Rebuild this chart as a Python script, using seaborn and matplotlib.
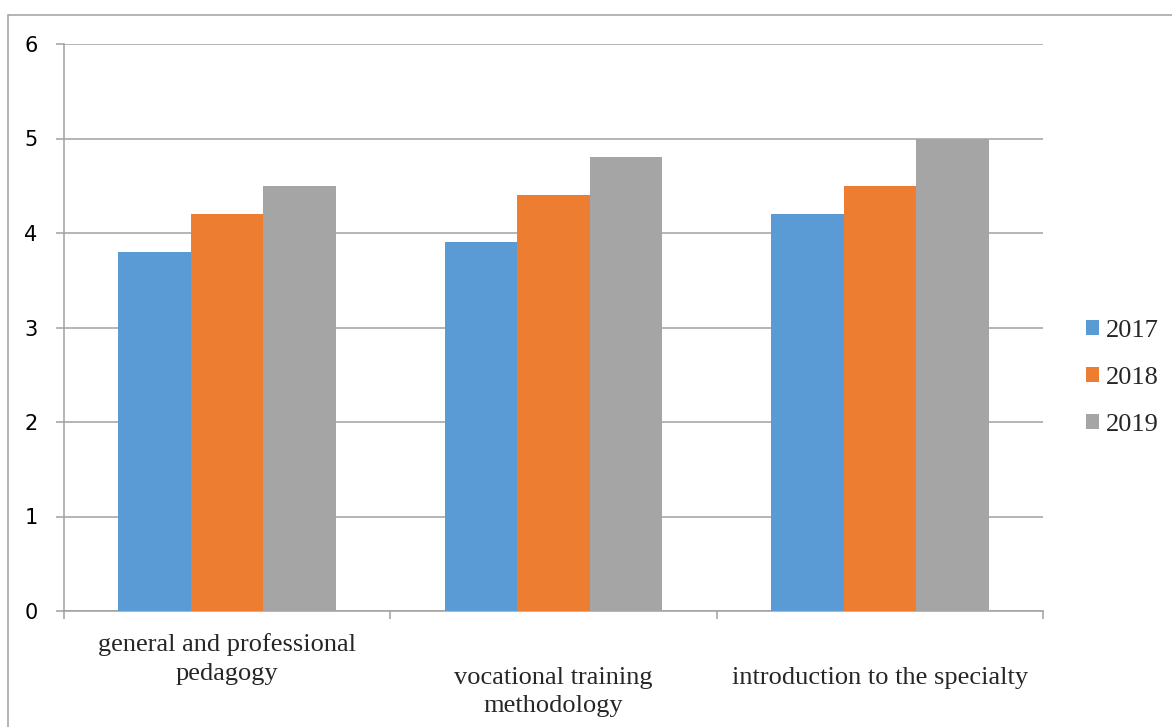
import pandas as pd
import numpy as np
import matplotlib.pyplot as plt
import seaborn as sns
from matplotlib.patches import Rectangle

courses = ["general and professional\npedagogy",
           "vocational training\nmethodology",
           "introduction to the specialty"]
years = ["2017", "2018", "2019"]
vals_2017 = [3.8, 3.9, 4.2]
vals_2018 = [4.2, 4.4, 4.5]
vals_2019 = [4.5, 4.8, 5.0]

colors = ["#5B9BD5", "#ED7D31", "#A5A5A5"]

df = pd.DataFrame({
    "course": courses * 3,
    "year": [years[0]] * 3 + [years[1]] * 3 + [years[2]] * 3,
    "value": vals_2017 + vals_2018 + vals_2019,
})

W, H = 1172, 727
sns.set_theme(style="white")
fig = plt.figure(figsize=(W / 100, H / 100), dpi=100)
ax = fig.add_axes([64 / W, 1 - 611 / H, (1043 - 64) / W, (611 - 44) / H])

sns.barplot(data=df, x="course", y="value", hue="year", order=courses,
            hue_order=years, palette=colors, width=0.667, gap=0,
            saturation=1, errorbar=None, linewidth=0, ax=ax, zorder=3)

ax.set_ylim(0, 6)
ax.set_xlim(-0.5, 2.5)
ax.set_yticks(range(0, 7))
ax.yaxis.grid(True, color="#A0A0A0", linewidth=1.1, zorder=0)
ax.set_axisbelow(True)
ax.set_xlabel("")
ax.set_ylabel("")

for s in ["top", "right"]:
    ax.spines[s].set_visible(False)
for s in ["left", "bottom"]:
    ax.spines[s].set_color("#A0A0A0")
    ax.spines[s].set_linewidth(1.1)

# ticks at category boundaries, labels centred
ax.set_xticks([-0.5, 0.5, 1.5, 2.5], minor=True)
ax.tick_params(axis="x", which="minor", bottom=True, length=6, color="#A0A0A0", width=1.1, direction="out")
ax.tick_params(axis="x", which="major", length=0)
ax.tick_params(axis="y", left=True, length=6, color="#A0A0A0", width=1.1, direction="out", pad=13)
for lab in ax.get_xticklabels():
    lab.set_fontfamily("Liberation Serif")
    lab.set_fontsize(19)
    lab.set_linespacing(1.4)
for tick, p in zip(ax.xaxis.get_major_ticks(), [16, 40, 40]):
    tick.set_pad(p)
for lab in ax.get_yticklabels():
    lab.set_fontfamily("DejaVu Sans")
    lab.set_fontsize(15)
    lab.set_color("black")

handles, labels = ax.get_legend_handles_labels()
ax.legend(handles, labels, loc="center left",
          bbox_to_anchor=(1086 / W, 1 - 378 / H), bbox_transform=fig.transFigure,
          frameon=False, handlelength=0.5, handleheight=0.5, handletextpad=0.25,
          labelspacing=0.95, borderaxespad=0, borderpad=0,
          prop={"family": "Liberation Serif", "size": 19})

fig.patches.append(Rectangle((8 / W, -0.05), 1.1, 1 - 15 / H + 0.05,
                             transform=fig.transFigure, fill=False,
                             edgecolor="#A0A0A0", linewidth=1.1))

fig.savefig("out.png", dpi=100)
